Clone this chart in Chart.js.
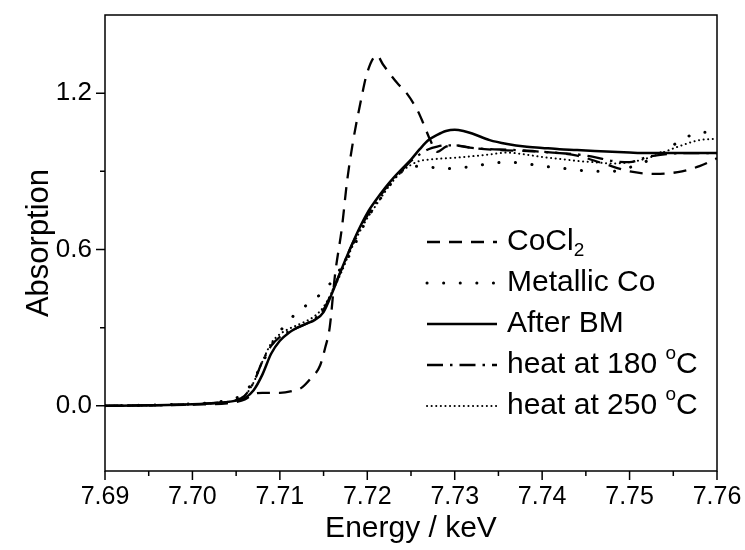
<!DOCTYPE html>
<html>
<head>
<meta charset="utf-8">
<script src="https://cdn.jsdelivr.net/npm/chart.js@4"></script>
<style>
  html, body { margin: 0; padding: 0; background: #fff; }
</style>
</head>
<body>
<canvas id="chart" width="745" height="550"></canvas>
<script>
// tick values and labels
const xTicks = [7.69, 7.70, 7.71, 7.72, 7.73, 7.74, 7.75, 7.76];
const xTickLabels = ['7.69', '7.70', '7.71', '7.72', '7.73', '7.74', '7.75', '7.76'];
const yTicks = [0.0, 0.6, 1.2];
const yTickLabels = ['0.0', '0.6', '1.2'];

const seriesNames = ['CoCl\u2082', 'Metallic Co', 'After BM', 'heat at 180 \u00b0C', 'heat at 250 \u00b0C'];

// shared energy grid (keV) for the four cobalt-like spectra
const energy = [7.690, 7.695, 7.700, 7.703, 7.705, 7.706, 7.707, 7.708, 7.709, 7.710,
  7.711, 7.712, 7.713, 7.714, 7.715, 7.716, 7.717, 7.718, 7.719, 7.720,
  7.721, 7.722, 7.723, 7.724, 7.725, 7.726, 7.727, 7.728, 7.729, 7.730,
  7.731, 7.732, 7.734, 7.736, 7.738, 7.740, 7.742, 7.744, 7.746, 7.748,
  7.750, 7.752, 7.754, 7.756, 7.758, 7.760];

const absAfterBM = [0, 0.002, 0.006, 0.012, 0.02, 0.03, 0.06, 0.12, 0.2, 0.25,
  0.28, 0.30, 0.315, 0.33, 0.36, 0.435, 0.52, 0.60, 0.675, 0.74,
  0.79, 0.835, 0.875, 0.91, 0.945, 0.985, 1.02, 1.04, 1.055, 1.06,
  1.055, 1.045, 1.02, 1.005, 0.995, 0.99, 0.985, 0.982, 0.978, 0.975,
  0.972, 0.97, 0.97, 0.97, 0.97, 0.97];

const absMetallicCo = [0, 0.003, 0.008, 0.015, 0.03, 0.05, 0.10, 0.165, 0.23, 0.285,
  0.325, 0.36, 0.385, 0.41, 0.44, 0.48, 0.53, 0.58, 0.65, 0.72,
  0.77, 0.82, 0.865, 0.90, 0.915, 0.92, 0.918, 0.912, 0.91, 0.912,
  0.915, 0.918, 0.93, 0.935, 0.93, 0.92, 0.913, 0.905, 0.90, 0.90,
  0.915, 0.94, 0.98, 1.02, 1.05, 1.05];

const absHeat180 = [0, 0.002, 0.006, 0.012, 0.022, 0.04, 0.09, 0.17, 0.23, 0.265,
  0.285, 0.30, 0.315, 0.335, 0.37, 0.44, 0.52, 0.60, 0.67, 0.73,
  0.78, 0.83, 0.87, 0.905, 0.94, 0.965, 0.985, 0.995, 1.0, 1.0,
  0.995, 0.99, 0.985, 0.983, 0.98, 0.975, 0.97, 0.965, 0.955, 0.94,
  0.935, 0.955, 0.965, 0.97, 0.97, 0.97];

const absHeat250 = [0, 0.002, 0.006, 0.012, 0.022, 0.04, 0.09, 0.17, 0.24, 0.275,
  0.295, 0.31, 0.325, 0.345, 0.38, 0.44, 0.51, 0.59, 0.66, 0.72,
  0.77, 0.82, 0.865, 0.90, 0.925, 0.94, 0.945, 0.948, 0.95, 0.952,
  0.955, 0.958, 0.965, 0.972, 0.965, 0.955, 0.948, 0.94, 0.935, 0.93,
  0.935, 0.95, 0.975, 1.0, 1.02, 1.025];

// CoCl2 has its own finer grid around the white line
const energyCoCl2 = [7.690, 7.700, 7.704, 7.705, 7.706, 7.707, 7.708, 7.710, 7.7115, 7.7125,
  7.7134, 7.7146, 7.7152, 7.7157, 7.7163, 7.7171, 7.7177, 7.7184, 7.7192, 7.7200,
  7.7211, 7.7218, 7.7234, 7.7245, 7.7258, 7.7264, 7.7272, 7.7280, 7.7290, 7.7300,
  7.7320, 7.7350, 7.7400, 7.7440, 7.7470, 7.7500, 7.7530, 7.7560, 7.7580, 7.7600];
const absCoCl2 = [0, 0.005, 0.01, 0.015, 0.025, 0.045, 0.05, 0.05, 0.058, 0.07,
  0.10, 0.155, 0.225, 0.30, 0.50, 0.685, 0.865, 1.02, 1.16, 1.28,
  1.345, 1.31, 1.24, 1.20, 1.13, 1.085, 1.02, 0.975, 0.995, 1.0,
  0.99, 0.982, 0.975, 0.96, 0.93, 0.90, 0.89, 0.90, 0.92, 0.95];

function pts(xs, ys) {
  return xs.map((x, i) => ({x: x, y: ys[i]}));
}

const FONT = "'Liberation Sans', Arial, sans-serif";

function drawRich(ctx, text, x, y, size) {
  // draws text with subscript 2 and superscript degree as small glyphs
  let cx = x;
  for (const ch of text) {
    if (ch === '\u2082') {
      ctx.font = Math.round(size * 0.62) + 'px ' + FONT;
      ctx.fillText('2', cx, y + size * 0.28);
      cx += ctx.measureText('2').width;
    } else if (ch === '\u00b0') {
      ctx.font = Math.round(size * 0.62) + 'px ' + FONT;
      ctx.fillText('o', cx, y - size * 0.38);
      cx += ctx.measureText('o').width;
    } else {
      ctx.font = size + 'px ' + FONT;
      ctx.fillText(ch, cx, y);
      cx += ctx.measureText(ch).width;
    }
  }
}

const frameTicks = {
  id: 'frameTicks',
  afterDraw(chart) {
    const ctx = chart.ctx;
    const a = chart.chartArea;
    const xs = chart.scales.x;
    const ys = chart.scales.y;
    ctx.save();
    ctx.strokeStyle = '#000';
    ctx.lineWidth = 1.5;
    ctx.strokeRect(a.left, a.top, a.right - a.left, a.bottom - a.top);
    ctx.beginPath();
    for (let i = 0; i < xTicks.length; i++) {
      const px = xs.getPixelForValue(xTicks[i]);
      ctx.moveTo(px, a.bottom);
      ctx.lineTo(px, a.bottom + 9);
      if (i < xTicks.length - 1) {
        const mx = xs.getPixelForValue((xTicks[i] + xTicks[i + 1]) / 2);
        ctx.moveTo(mx, a.bottom);
        ctx.lineTo(mx, a.bottom + 5);
      }
    }
    for (let i = 0; i < yTicks.length; i++) {
      const py = ys.getPixelForValue(yTicks[i]);
      ctx.moveTo(a.left, py);
      ctx.lineTo(a.left - 9, py);
      if (i < yTicks.length - 1) {
        const my = ys.getPixelForValue((yTicks[i] + yTicks[i + 1]) / 2);
        ctx.moveTo(a.left, my);
        ctx.lineTo(a.left - 5, my);
      }
    }
    ctx.stroke();
    ctx.restore();
  }
};

const legendLines = {
  id: 'legendLines',
  afterDraw(chart) {
    const ctx = chart.ctx;
    const x0 = 427, x1 = 497, tx = 507, y0 = 242, gap = 41;
    ctx.save();
    chart.data.datasets.forEach((ds, i) => {
      const y = y0 + i * gap;
      ctx.strokeStyle = '#000';
      ctx.lineWidth = ds.borderWidth;
      ctx.lineCap = ds.borderCapStyle || 'butt';
      ctx.setLineDash(ds.borderDash || []);
      ctx.beginPath();
      ctx.moveTo(x0, y);
      ctx.lineTo(x1, y);
      ctx.stroke();
      ctx.setLineDash([]);
      ctx.fillStyle = '#000';
      ctx.textBaseline = 'middle';
      drawRich(ctx, ds.label, tx, y, 30);
    });
    ctx.restore();
  }
};

const common = {
  borderColor: '#000',
  pointRadius: 0,
  fill: false,
  cubicInterpolationMode: 'monotone'
};

new Chart(document.getElementById('chart'), {
  type: 'line',
  data: {
    datasets: [
      Object.assign({label: seriesNames[0], data: pts(energyCoCl2, absCoCl2),
        borderWidth: 2.3, borderDash: [13, 9]}, common),
      Object.assign({label: seriesNames[1], data: pts(energy, absMetallicCo),
        borderWidth: 3, borderDash: [0.1, 16.5], borderCapStyle: 'round'}, common),
      Object.assign({label: seriesNames[2], data: pts(energy, absAfterBM),
        borderWidth: 2.5}, common),
      Object.assign({label: seriesNames[3], data: pts(energy, absHeat180),
        borderWidth: 2.3, borderDash: [16, 7, 2.5, 7]}, common),
      Object.assign({label: seriesNames[4], data: pts(energy, absHeat250),
        borderWidth: 2, borderDash: [0.1, 4.5], borderCapStyle: 'round'}, common)
    ]
  },
  options: {
    responsive: false,
    animation: false,
    layout: {padding: {top: 15, right: 28, left: 0, bottom: 0}},
    plugins: {
      legend: {display: false},
      tooltip: {enabled: false}
    },
    scales: {
      x: {
        type: 'linear',
        min: 7.69,
        max: 7.76,
        afterFit(scale) {
          scale.height = 79;
          scale.paddingLeft = 0;
          scale.paddingRight = 0;
        },
        afterBuildTicks(scale) { scale.ticks = xTicks.map(v => ({value: v})); },
        grid: {display: false, drawTicks: false},
        border: {display: false},
        ticks: {
          color: '#000',
          padding: 11,
          maxRotation: 0,
          autoSkip: false,
          font: {family: FONT, size: 25},
          callback: (v, i) => xTickLabels[i]
        },
        title: {
          display: true,
          text: 'Energy / keV',
          color: '#000',
          font: {family: FONT, size: 30},
          padding: {top: 0, bottom: 3}
        }
      },
      y: {
        min: -0.25,
        max: 1.5,
        afterFit(scale) {
          scale.width = 105;
          scale.paddingTop = 0;
          scale.paddingBottom = 0;
        },
        afterBuildTicks(scale) { scale.ticks = yTicks.map(v => ({value: v})); },
        grid: {display: false, drawTicks: false},
        border: {display: false},
        ticks: {
          color: '#000',
          padding: 13,
          autoSkip: false,
          font: {family: FONT, size: 26},
          callback: (v, i) => yTickLabels[i]
        },
        title: {
          display: true,
          text: 'Absorption',
          color: '#000',
          font: {family: FONT, size: 31},
          padding: {top: 21, bottom: 0}
        }
      }
    }
  },
  plugins: [frameTicks, legendLines]
});
</script>
</body>
</html>
